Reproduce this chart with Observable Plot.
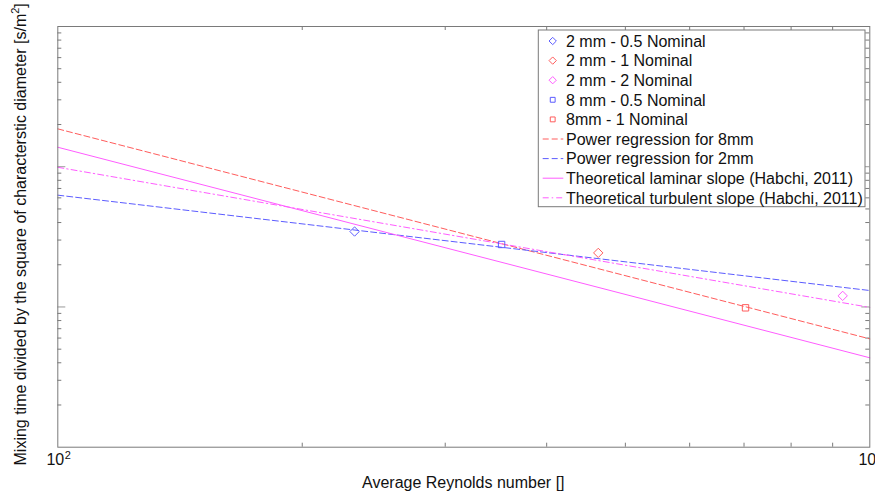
<!DOCTYPE html>
<html><head><meta charset="utf-8">
<script src="https://cdn.jsdelivr.net/npm/d3@7"></script>
<script src="https://cdn.jsdelivr.net/npm/@observablehq/plot@0.6"></script>
<style>body{margin:0;background:#fff}#chart{position:relative;width:875px;height:495px;overflow:hidden}</style>
</head><body><div id="chart"></div>
<script>
// ---- data ----
const pointSeries = ["2 mm - 0.5 Nominal", "2 mm - 1 Nominal", "2 mm - 2 Nominal", "8 mm - 0.5 Nominal", "8mm - 1 Nominal"];
const pointRe = [232, 463, 926, 352, 703];
const pointValue = [3.45e6, 2.43e6, 1.2e6, 2.79e6, 9.86e5];

const lineSeries = ["Power regression for 8mm", "Power regression for 2mm", "Theoretical laminar slope (Habchi, 2011)", "Theoretical turbulent slope (Habchi, 2011)"];
const lineRe = [100, 1000];
const reg8mm = [1.862e7, 5.92e5];
const reg2mm = [6.27e6, 1.31e6];
const laminar = [1.377e7, 4.34e5];
const turbulent = [9.91e6, 9.93e5];

const xMinorTicks = [200, 300, 400, 500, 600, 700, 800, 900];
const yMinorTicks = [2e5,3e5,4e5,5e5,6e5,7e5,8e5,9e5, 2e6,3e6,4e6,5e6,6e6,7e6,8e6,9e6, 2e7,3e7,4e7,5e7,6e7,7e7,8e7,9e7];
const yMajorTicks = [1e6, 1e7];
const xTickLabels = [{v: 100, base: "10", exp: "2"}, {v: 1000, base: "10", exp: ""}];

// ---- styles ----
const pointStyle = {
  "2 mm - 0.5 Nominal": {color: "#5c5cff", symbol: "diamond"},
  "2 mm - 1 Nominal": {color: "#ff5c5c", symbol: "diamond"},
  "2 mm - 2 Nominal": {color: "#ff5cff", symbol: "diamond"},
  "8 mm - 0.5 Nominal": {color: "#5c5cff", symbol: "square"},
  "8mm - 1 Nominal": {color: "#ff5c5c", symbol: "square"}
};
const lineStyle = {
  "Power regression for 8mm": {color: "#ff5c5c", dash: "6,3"},
  "Power regression for 2mm": {color: "#5c5cff", dash: "6,3"},
  "Theoretical laminar slope (Habchi, 2011)": {color: "#ff5cff", dash: null},
  "Theoretical turbulent slope (Habchi, 2011)": {color: "#ff5cff", dash: "6,3,1.5,3"}
};
const lineValues = [reg8mm, reg2mm, laminar, turbulent];

const points = pointSeries.map((s, i) => ({series: s, re: pointRe[i], v: pointValue[i]}));
const lines = lineSeries.flatMap((s, i) => lineRe.map((re, j) => ({series: s, re, v: lineValues[i][j]})));

const W = 875, H = 495, mL = 57.3, mR = 5.7, mT = 26, mB = 48.3;
const pw = W - mL - mR, ph = H - mT - mB;
const axisColor = "#7a7a7a";
const font = "'Liberation Sans', Arial, sans-serif";

const marks = [
  Plot.tickX(xMinorTicks, {x: d => d, insetTop: ph - 4, stroke: axisColor}),
  Plot.tickX(xMinorTicks, {x: d => d, insetBottom: ph - 4, stroke: axisColor}),
  Plot.tickY(yMinorTicks, {y: d => d, insetRight: pw - 4, stroke: axisColor}),
  Plot.tickY(yMinorTicks, {y: d => d, insetLeft: pw - 4, stroke: axisColor}),
  Plot.tickY(yMajorTicks, {y: d => d, insetRight: pw - 8, stroke: "#999"}),
  Plot.tickY(yMajorTicks, {y: d => d, insetLeft: pw - 8, stroke: "#999"})
];
lineSeries.forEach(s => {
  marks.push(Plot.line(lines.filter(d => d.series === s), {
    x: "re", y: "v", stroke: lineStyle[s].color, strokeWidth: 1,
    strokeDasharray: lineStyle[s].dash
  }));
});
pointSeries.forEach(s => {
  const isDiamond = pointStyle[s].symbol === "diamond";
  marks.push(Plot.dot(points.filter(d => d.series === s), {
    x: "re", y: "v", symbol: isDiamond ? "diamond2" : "square", r: isDiamond ? 4.2 : 3.6,
    fill: "none", stroke: pointStyle[s].color, strokeWidth: 1
  }));
});
marks.push(Plot.frame({stroke: axisColor}));
marks.push(Plot.text(xTickLabels, {x: "v", frameAnchor: "bottom", text: "base", dy: 18, dx: -2.5, fontSize: 16, fill: "#111"}));
marks.push(Plot.text(xTickLabels, {x: "v", frameAnchor: "bottom", text: "exp", dy: 11.5, dx: 10, fontSize: 11, fill: "#111"}));

const chart = Plot.plot({
  width: W, height: H,
  marginLeft: mL, marginRight: mR, marginTop: mT, marginBottom: mB,
  x: {type: "log", domain: [100, 1000], axis: null},
  y: {type: "log", domain: [1e5, 1e8], axis: null},
  style: {background: "white", fontFamily: font, overflow: "visible"},
  marks
});
document.getElementById("chart").appendChild(chart);

const svg = d3.select(chart);
// axis titles
svg.append("text").attr("x", mL + pw / 2).attr("y", 488).attr("text-anchor", "middle")
  .attr("font-size", 16).attr("font-family", font).attr("fill", "#111")
  .text("Average Reynolds number []");
const yl = svg.append("text").attr("transform", `translate(25.5,${mT + ph / 2 - 2}) rotate(-90)`)
  .attr("text-anchor", "middle").attr("font-size", 16).attr("font-family", font).attr("fill", "#111");
yl.append("tspan").text("Mixing time divided by the square of characterstic diameter [s/m");
yl.append("tspan").attr("font-size", 11).attr("dy", -7).text("2");
yl.append("tspan").attr("dy", 7).text("]");

// legend
const lx = 538.3, ly = 30, lw = 326.7, lh = 176.7;
const lg = svg.append("g").attr("text-anchor", "start");
lg.append("rect").attr("x", lx).attr("y", ly).attr("width", lw).attr("height", lh)
  .attr("fill", "white").attr("stroke", axisColor);
const entries = [
  ...pointSeries.map(s => ({name: s, kind: "point", st: pointStyle[s]})),
  ...lineSeries.map(s => ({name: s, kind: "line", st: lineStyle[s]}))
];
entries.forEach((e, i) => {
  const cy = 41 + i * 19.6;
  if (e.kind === "point") {
    const sym = e.st.symbol === "diamond" ? d3.symbolDiamond2 : d3.symbolSquare2;
    lg.append("path").attr("d", d3.symbol(sym, e.st.symbol === "diamond" ? 34 : 30)())
      .attr("transform", `translate(552.7,${cy})`).attr("fill", "none").attr("stroke", e.st.color);
  } else {
    lg.append("line").attr("x1", 542.7).attr("x2", 563.3).attr("y1", cy).attr("y2", cy)
      .attr("stroke", e.st.color).attr("stroke-dasharray", e.st.dash);
  }
  lg.append("text").attr("x", 566).attr("y", cy + 5.7).attr("font-size", 16)
    .attr("text-anchor", "start").attr("font-family", font).attr("fill", "#111").text(e.name);
});
</script></body></html>
